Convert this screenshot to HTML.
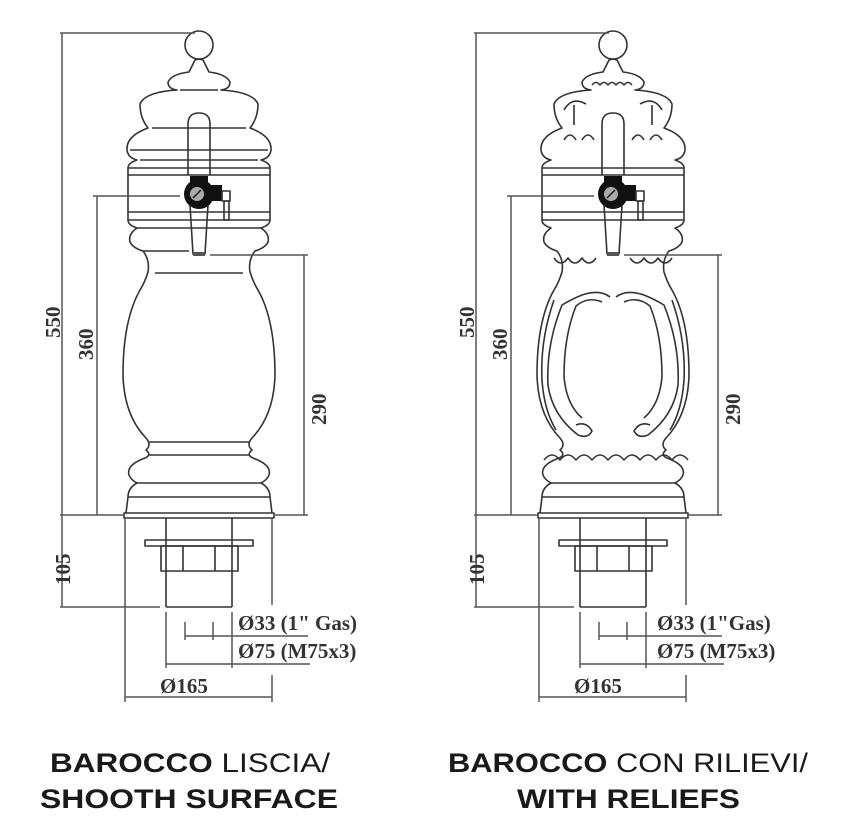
<!DOCTYPE html>
<html><head><meta charset="utf-8"><style>
html,body{margin:0;padding:0;background:#fff}
svg{display:block}
.o{fill:none;stroke:#333;stroke-width:1.6;stroke-linejoin:round}
.d{fill:none;stroke:#555;stroke-width:1.5}
.t{font-family:"Liberation Serif",serif;font-weight:bold;font-size:21px;fill:#333}
.c{font-family:"Liberation Sans",sans-serif;font-size:27px;fill:#1a1a1a}
</style></head><body>
<svg width="847" height="833" viewBox="0 0 847 833" xmlns="http://www.w3.org/2000/svg">
<defs>
<path id="half" class="o" d="M199,59 L195,60 L189,72 Q172,74 168,82 Q168,89 177,90 Q145,92 140,104 Q140,118 148,128 Q126,136 127,150 Q128,158 137,160 Q128,163 128,168 L128,220 Q128,225 137,228 Q128,234 130,242 Q133,248 143,251 Q150,260 148,272 Q145,282 140,290 Q123,320 123,375 Q124,415 146,438 Q152,445 146,450 Q152,455 145,458 Q126,465 129,475 Q131,480 137,483 Q128,488 128,497 L126,513"/>
<g id="common">
  <use href="#half"/>
  <use href="#half" transform="translate(398,0) scale(-1,1)"/>
  <circle class="o" cx="199" cy="45" r="14"/>
  <line class="o" x1="128" y1="168" x2="270" y2="168"/>
  <line class="o" x1="128" y1="175" x2="270" y2="175"/>
  <line class="o" x1="128" y1="212" x2="270" y2="212"/>
  <line class="o" x1="128" y1="220" x2="270" y2="220"/>
  <rect class="o" x="124" y="513" width="150" height="5" fill="#fff"/>
  <line class="o" x1="128" y1="497" x2="270" y2="497"/>
  <line class="o" x1="166" y1="518" x2="166" y2="607"/>
  <line class="o" x1="232" y1="518" x2="232" y2="607"/>
  <rect class="o" x="145" y="540" width="108" height="6" fill="#fff"/>
  <rect class="o" x="161" y="546" width="77" height="25" fill="#fff"/>
  <line class="o" x1="183" y1="546" x2="183" y2="571"/>
  <line class="o" x1="215" y1="546" x2="215" y2="571"/>
  <line class="o" x1="166" y1="607" x2="232" y2="607"/>
  <path class="o" fill="#fff" d="M188,175 L188,124 Q188,113 199,113 Q210,113 210,124 L210,175"/>
  <path class="o" fill="#fff" d="M190,205 L193,254 L205,254 L208,205"/>
  <rect x="193" y="252" width="12" height="4" fill="#555"/>
  <rect x="190" y="176" width="18" height="12" fill="#111"/>
  <rect x="205" y="185" width="17" height="16" fill="#111"/>
  <circle cx="199" cy="194" r="15" fill="#111"/>
  <circle cx="197" cy="194" r="7" fill="#aaa"/>
  <line x1="193" y1="198" x2="201" y2="190" stroke="#111" stroke-width="1.5"/>
  <rect x="222" y="191" width="8" height="10" class="o" fill="#fff"/>
  <rect x="224" y="201" width="5" height="19" class="o" fill="#fff"/>
  <line class="d" x1="60" y1="33" x2="195" y2="33"/>
  <line class="d" x1="62" y1="33" x2="62" y2="607"/>
  <line class="d" x1="60" y1="515" x2="124" y2="515"/>
  <line class="d" x1="60" y1="607" x2="160" y2="607"/>
  <line class="d" x1="93" y1="196" x2="180" y2="196"/>
  <line class="d" x1="97" y1="196" x2="97" y2="515"/>
  <line class="d" x1="210" y1="255" x2="308" y2="255"/>
  <line class="d" x1="304" y1="255" x2="304" y2="515"/>
  <line class="d" x1="275" y1="515" x2="308" y2="515"/>
  <line class="d" x1="185" y1="622" x2="185" y2="640"/>
  <line class="d" x1="213" y1="622" x2="213" y2="640"/>
  <line class="d" x1="185" y1="636" x2="308" y2="636"/>
  <line class="d" x1="166" y1="612" x2="166" y2="668"/>
  <line class="d" x1="232" y1="612" x2="232" y2="668"/>
  <line class="d" x1="166" y1="664" x2="310" y2="664"/>
  <line class="d" x1="125" y1="518" x2="125" y2="702"/>
  <line class="d" x1="272" y1="518" x2="272" y2="605"/>
  <line class="d" x1="272" y1="675" x2="272" y2="702"/>
  <line class="d" x1="125" y1="697" x2="272" y2="697"/>
  <text class="t" transform="translate(60,338) rotate(-90)">550</text>
  <text class="t" transform="translate(93,360) rotate(-90)">360</text>
  <text class="t" transform="translate(326,425) rotate(-90)">290</text>
  <text class="t" transform="translate(70,585) rotate(-90)">105</text>
  <text class="t" x="160" y="693" font-size="22">Ø165</text>
</g>
</defs>

<use href="#common"/>
<g class="o">
  <line x1="180" y1="90" x2="218" y2="90"/>
  <line x1="152" y1="128" x2="246" y2="128"/>
  <line x1="130" y1="150" x2="268" y2="150"/>
  <line x1="140" y1="160" x2="258" y2="160"/>
  <line x1="137" y1="228" x2="261" y2="228"/>
  <line x1="143" y1="251" x2="189" y2="251"/>
  <line x1="155" y1="273" x2="243" y2="273"/>
  <line x1="148" y1="442" x2="250" y2="442"/>
  <line x1="148" y1="455" x2="250" y2="455"/>
  <line x1="137" y1="483" x2="261" y2="483"/>
</g>
<text class="t" x="238" y="630" font-size="19">Ø33 (1" Gas)</text>
<text class="t" x="238" y="658" font-size="19">Ø75 (M75x3)</text>

<use href="#common" transform="translate(414,0)"/>
<g class="o" transform="translate(414,0)">
  <path d="M178,85 q4,-5 8,0 q4,-5 8,0 q4,-5 8,0 q4,-5 8,0 q4,-5 8,0"/>
  <path d="M150,110 q8,-14 22,-6 M160,105 l0,20 M248,110 q-8,-14 -22,-6 M238,105 l0,20"/>
  <path d="M150,140 q6,-10 12,0 M168,140 q6,-10 12,0 M218,140 q6,-10 12,0 M236,140 q6,-10 12,0"/>
  <path d="M140,258 q7,10 14,0 q7,10 14,0 q7,10 14,0 M216,258 q7,10 14,0 q7,10 14,0 q7,10 14,0"/>
  <path d="M130,460 q8,-10 16,0 q8,-10 16,0 q8,-10 16,0 q8,-10 16,0 q8,-10 16,0 q8,-10 16,0 q8,-10 16,0 q8,-10 16,0 q8,-10 16,0"/>
  <line x1="137" y1="483" x2="261" y2="483"/>
  <path d="M196,297 q-10,-8 -28,-2 q-10,4 -20,10 q-16,40 -14,80 q4,30 30,50 q10,4 14,-4 q-6,-10 -16,-6"/>
  <path d="M188,302 q-14,-6 -26,4 q-12,30 -12,70 q2,28 18,42"/>
  <path d="M202,297 q10,-8 28,-2 q10,4 20,10 q16,40 14,80 q-4,30 -30,50 q-10,4 -14,-4 q6,-10 16,-6"/>
  <path d="M210,302 q14,-6 26,4 q12,30 12,70 q-2,28 -18,42"/>
  <path d="M140,300 q-14,40 -12,80 q2,30 14,50 M258,300 q14,40 12,80 q-2,30 -14,50"/>
</g>
<text class="t" x="657" y="630" font-size="19">Ø33 (1"Gas)</text>
<text class="t" x="657" y="658" font-size="19">Ø75 (M75x3)</text>

<text class="c" x="50" y="772" textLength="280" lengthAdjust="spacingAndGlyphs"><tspan font-weight="bold">BAROCCO</tspan> LISCIA/</text>
<text class="c" x="40" y="808" textLength="298" lengthAdjust="spacingAndGlyphs" font-weight="bold">SHOOTH SURFACE</text>
<text class="c" x="448" y="772" textLength="360" lengthAdjust="spacingAndGlyphs"><tspan font-weight="bold">BAROCCO</tspan> CON RILIEVI/</text>
<text class="c" x="517" y="808" textLength="223" lengthAdjust="spacingAndGlyphs" font-weight="bold">WITH RELIEFS</text>
</svg>
</body></html>
